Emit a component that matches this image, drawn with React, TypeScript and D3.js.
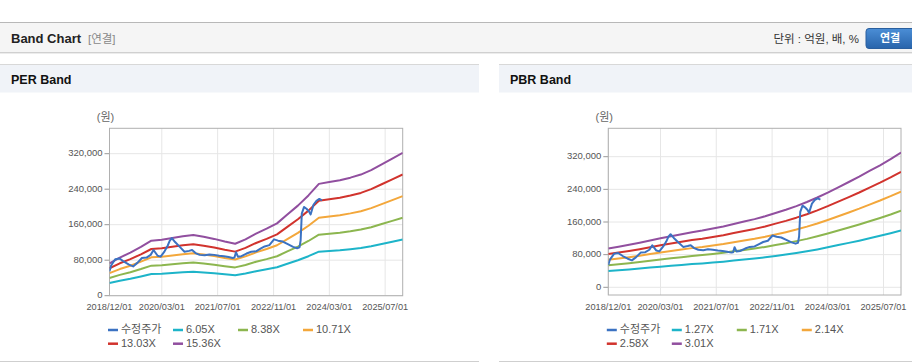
import React from "react";
import * as d3 from "d3";

const BAND_DATES = ["2018-12-01","2019-03-01","2019-06-01","2019-09-01","2019-12-01","2020-03-01","2020-06-01","2020-09-01","2020-12-01","2021-03-01","2021-06-01","2021-09-01","2021-12-01","2022-03-01","2022-06-01","2022-09-01","2022-12-01","2023-03-01","2023-06-01","2023-09-01","2023-12-01","2024-03-01","2024-06-01","2024-09-01","2024-12-01","2025-03-01","2025-06-01","2025-09-01","2025-12-01"];

const PER_LABELS = ["6.05X", "8.38X", "10.71X", "13.03X", "15.36X"];
const PER_605 = [28800,33900,38200,43300,48800,49600,51200,52800,54000,52400,50400,48100,46100,50000,55100,59500,64200,72100,80000,89000,99300,100800,102400,104800,107500,111500,116600,121700,126800];
const PER_838 = [39800,46900,52900,60000,67700,68700,70900,73100,74700,72600,69800,66600,63800,69300,76400,82400,88900,99800,110800,123300,137500,139700,141900,145100,149000,154400,161500,168600,175700];
const PER_1071 = [50900,60000,67600,76700,86500,87900,90600,93400,95500,92700,89300,85100,81600,88600,97600,105300,113700,127600,141600,157600,175700,178500,181300,185500,190400,197300,206400,215500,224500];
const PER_1303 = [61900,73000,82300,93300,105200,106900,110300,113700,116200,112800,108600,103500,99300,107700,118800,128100,138300,155200,172200,191700,213800,217200,220600,225600,231600,240100,251100,262100,273200];
const PER_1536 = [73000,86000,97000,110000,124000,126000,130000,134000,137000,133000,128000,122000,117000,127000,140000,151000,163000,183000,203000,226000,252000,256000,260000,266000,273000,283000,296000,309000,322000];

const PBR_LABELS = ["1.27X", "1.71X", "2.14X", "2.58X", "3.01X"];
const PBR_127 = [40100,42000,43900,46000,48300,50600,52700,54800,57000,58600,60800,62900,65400,67900,70500,73400,76800,80200,84000,88200,92800,97900,103400,108800,114300,120200,126100,132500,139200];
const PBR_171 = [54000,56500,59100,61900,65000,68200,71000,73900,76700,79000,81800,84600,88100,91500,94900,98900,103400,107900,113100,118700,125000,131800,139200,146600,154000,161900,169900,178400,187500];
const PBR_214 = [67500,70700,73900,77500,81400,85300,88900,92400,96000,98800,102400,105900,110200,114500,118700,123700,129400,135100,141500,148600,156400,165000,174200,183400,192700,202600,212600,223300,234600];
const PBR_258 = [81400,85300,89100,93400,98100,102900,107100,111400,115700,119100,123400,127700,132900,138000,143100,149100,156000,162800,170600,179100,188600,198800,210000,221100,232300,244300,256300,269100,282800];
const PBR_301 = [95000,99500,104000,109000,114500,120000,125000,130000,135000,139000,144000,149000,155000,161000,167000,174000,182000,190000,199000,209000,220000,232000,245000,258000,271000,285000,299000,314000,330000];

const PRICE_LABEL = "수정주가";
const PRICE_DATES = ["2018-12-01","2018-12-15","2019-01-20","2019-02-25","2019-04-10","2019-05-20","2019-06-25","2019-08-01","2019-09-10","2019-10-20","2019-11-25","2019-12-20","2020-01-25","2020-02-20","2020-03-25","2020-04-20","2020-05-10","2020-05-28","2020-06-25","2020-08-05","2020-09-15","2020-10-25","2020-11-20","2020-12-20","2021-01-25","2021-03-10","2021-04-20","2021-06-01","2021-07-15","2021-08-25","2021-10-05","2021-11-10","2021-11-25","2021-12-08","2021-12-25","2022-01-25","2022-03-10","2022-04-20","2022-06-01","2022-07-10","2022-08-15","2022-09-25","2022-11-05","2022-12-10","2023-01-20","2023-03-05","2023-04-20","2023-05-25","2023-06-15","2023-06-25","2023-07-05","2023-07-25","2023-08-15","2023-09-05","2023-09-20","2023-10-15","2023-11-10","2023-12-05","2023-12-28"];
const PRICE_VALUES = [55000,68000,82000,84000,76000,70000,66000,74000,85000,86000,92000,103000,90000,88000,100000,112000,124000,130000,121000,110000,99000,101000,103000,96000,92000,91000,93000,92000,90000,89000,87000,85000,86000,98000,88000,89000,95000,99000,100000,106000,111000,114000,127000,124000,122000,116000,110000,107000,109000,125000,185000,200000,196000,190000,183000,205000,214000,218000,215000];

const X_TICKS = ["2018/12/01","2020/03/01","2021/07/01","2022/11/01","2024/03/01","2025/07/01"];
const Y_TICKS = [0, 80000, 160000, 240000, 320000];
const X_DOMAIN = ["2018-12-01", "2025-12-01"];

const COLORS = ["#3b72c2", "#1db4c9", "#8cb64f", "#f3a73b", "#d1332d", "#914f9f"];
const FONT = "Arial, 'Liberation Sans', 'Noto Sans CJK KR', sans-serif";

const parse = d3.timeParse("%Y-%m-%d");
const parseTick = d3.timeParse("%Y/%m/%d");

type ChartProps = {
  id: string;
  left: number;
  right: number;
  top: number;
  bottom: number;
  zeroY: number;
  topTickY: number;
  bands: number[][];
  labels: string[];
};

function BandChart({ id, left, right, top, bottom, zeroY, topTickY, bands, labels }: ChartProps) {
  const x = d3.scaleTime().domain(X_DOMAIN.map((d) => parse(d) as Date)).range([left, right]);
  const y = d3.scaleLinear().domain([0, 320000]).range([zeroY, topTickY]);
  const bandDates = BAND_DATES.map((d) => parse(d) as Date);
  const priceDates = PRICE_DATES.map((d) => parse(d) as Date);
  const line = d3
    .line<[Date, number]>()
    .x((d) => x(d[0]))
    .y((d) => y(d[1]));
  const series = bands.map((b) => line(bandDates.map((d, i) => [d, b[i]] as [Date, number])) || "");
  const pricePath = line(priceDates.map((d, i) => [d, PRICE_VALUES[i]] as [Date, number])) || "";
  const legendItems = [PRICE_LABEL, ...labels];
  const legendX = left - 1.5;
  return (
    <g>
      <defs>
        <clipPath id={id + "clip"}>
          <rect x={left} y={top} width={right - left} height={bottom - top} />
        </clipPath>
      </defs>
      <text x={left - 4} y={118} fontSize={11} fill="#666" textAnchor="middle" dominantBaseline="middle" fontFamily={FONT}>
        (원)
      </text>
      {X_TICKS.map((t) => {
        const xv = x(parseTick(t) as Date);
        return (
          <g key={t}>
            <line x1={xv} x2={xv} y1={top} y2={bottom} stroke="#e6e6e6" strokeWidth={1} />
            <text x={xv} y={307.5} fontSize={9.2} fill="#555" textAnchor="middle" dominantBaseline="middle" fontFamily={FONT}>
              {t}
            </text>
          </g>
        );
      })}
      {Y_TICKS.map((t) => {
        const yv = y(t);
        return (
          <g key={t}>
            <line x1={left} x2={right} y1={yv} y2={yv} stroke="#e6e6e6" strokeWidth={1} />
            <line x1={left - 5} x2={left} y1={yv} y2={yv} stroke="#999" strokeWidth={1} />
            <text x={left - 7} y={yv} fontSize={9.5} fill="#555" textAnchor="end" dominantBaseline="middle" fontFamily={FONT}>
              {d3.format(",")(t)}
            </text>
          </g>
        );
      })}
      <rect x={left} y={top} width={right - left} height={bottom - top} fill="none" stroke="#b0b0b0" strokeWidth={1} />
      <g clipPath={`url(#${id}clip)`}>
        {series.map((p, i) => (
          <path key={i} d={p} fill="none" stroke={COLORS[i + 1]} strokeWidth={2} strokeLinejoin="round" />
        ))}
        <path d={pricePath} fill="none" stroke={COLORS[0]} strokeWidth={2} strokeLinejoin="round" />
      </g>
      {legendItems.map((label, i) => {
        const row = Math.floor(i / 4);
        const col = i % 4;
        const lx = legendX + col * 65;
        const ly = 330 + row * 13.7;
        return (
          <g key={label}>
            <line x1={lx} x2={lx + 10} y1={ly} y2={ly} stroke={COLORS[i]} strokeWidth={2.5} />
            <text x={lx + 13} y={ly} fontSize={11} fill="#555" dominantBaseline="middle" fontFamily={FONT}>
              {label}
            </text>
          </g>
        );
      })}
    </g>
  );
}

export default function App() {
  return (
    <div style={{ position: "absolute", left: 0, top: 0, width: 912, height: 364, background: "#fff" }}>
      <svg width={912} height={364} viewBox="0 0 912 364" style={{ display: "block" }}>
        <defs>
          <linearGradient id="btn" x1="0" y1="0" x2="0" y2="1">
            <stop offset="0" stopColor="#4b8ed6" />
            <stop offset="1" stopColor="#2864ab" />
          </linearGradient>
        </defs>
        <rect x={0} y={0} width={912} height={364} fill="#fff" />
        {/* header */}
        <rect x={0} y={22} width={912} height={31} fill="#f5f5f5" />
        <line x1={0} x2={912} y1={22.5} y2={22.5} stroke="#b8b8b8" />
        <line x1={0} x2={912} y1={52.5} y2={52.5} stroke="#d0d0d0" />
        <line x1={0} x2={912} y1={53.5} y2={53.5} stroke="#ececec" />
        <text x={11} y={40} fontSize={13} fontWeight="bold" fill="#222" dominantBaseline="middle" fontFamily={FONT}>
          Band Chart
        </text>
        <text x={88} y={40} fontSize={11.5} fill="#888" dominantBaseline="middle" fontFamily={FONT}>
          [연결]
        </text>
        <text x={859} y={40} fontSize={11.5} fill="#333" textAnchor="end" dominantBaseline="middle" fontFamily={FONT}>
          단위 : 억원, 배, %
        </text>
        <rect x={866} y={28.5} width={52} height={20} rx={3} fill="url(#btn)" stroke="#2a5f9e" />
        <text x={890} y={39} fontSize={11} fontWeight="bold" fill="#fff" textAnchor="middle" dominantBaseline="middle" fontFamily={FONT}>
          연결
        </text>
        {/* panels */}
        <rect x={0} y={64} width={479} height={28.5} fill="#f0f3f8" />
        <line x1={0} x2={479} y1={64.5} y2={64.5} stroke="#d8d8d8" />
        <rect x={499} y={64} width={413} height={28.5} fill="#f0f3f8" />
        <line x1={499} x2={912} y1={64.5} y2={64.5} stroke="#d8d8d8" />
        <text x={11} y={80.5} fontSize={12.5} fontWeight="bold" fill="#111" dominantBaseline="middle" fontFamily={FONT}>
          PER Band
        </text>
        <text x={510} y={80.5} fontSize={12.5} fontWeight="bold" fill="#111" dominantBaseline="middle" fontFamily={FONT}>
          PBR Band
        </text>
        <line x1={0} x2={479} y1={361.5} y2={361.5} stroke="#cfcfcf" />
        <line x1={499} x2={912} y1={361.5} y2={361.5} stroke="#cfcfcf" />
        <BandChart
          id="per"
          left={109.5}
          right={402.7}
          top={128.3}
          bottom={295.7}
          zeroY={295.7}
          topTickY={153.7}
          bands={[PER_605, PER_838, PER_1071, PER_1303, PER_1536]}
          labels={PER_LABELS}
        />
        <BandChart
          id="pbr"
          left={608.3}
          right={901}
          top={128.3}
          bottom={295}
          zeroY={287.3}
          topTickY={156.7}
          bands={[PBR_127, PBR_171, PBR_214, PBR_258, PBR_301]}
          labels={PBR_LABELS}
        />
      </svg>
    </div>
  );
}
